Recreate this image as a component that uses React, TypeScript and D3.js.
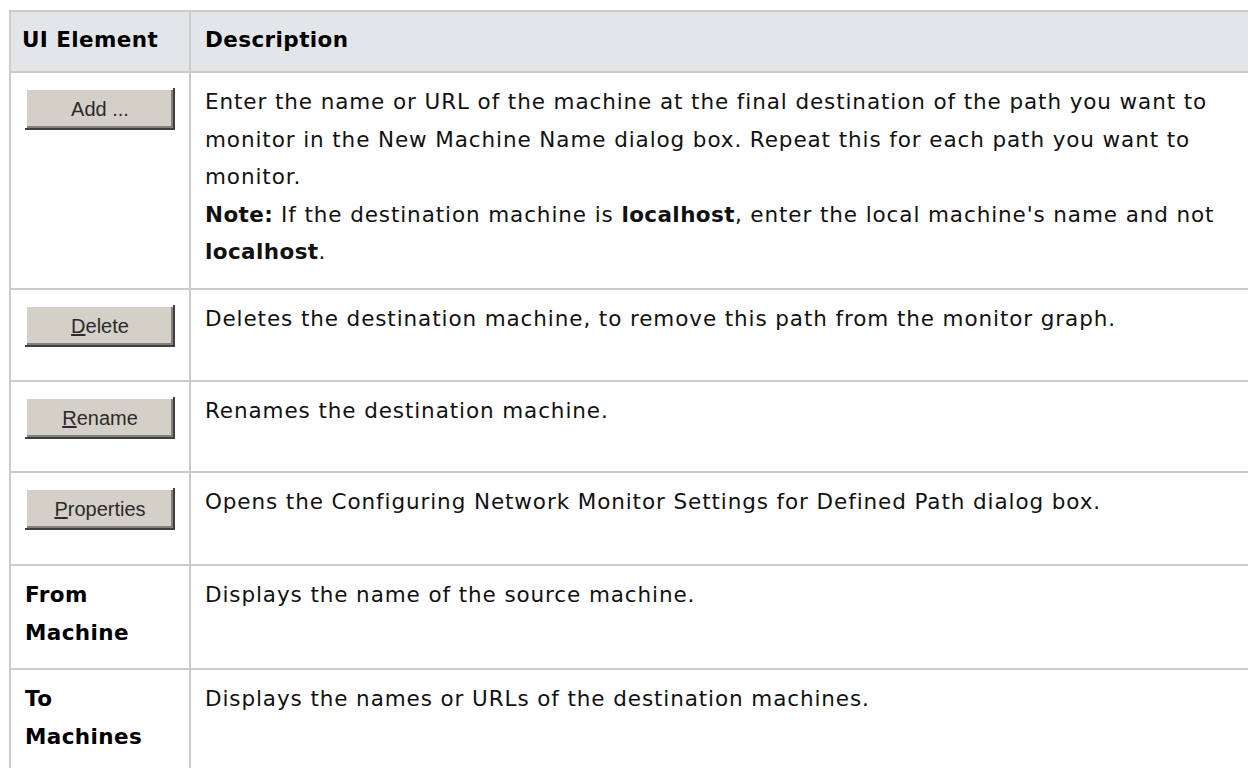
import React, { useEffect, useRef } from "react";
import * as d3 from "d3";

// table content
const headers = ["UI Element", "Description"];
const buttonLabels = ["Add ...", "Delete", "Rename", "Properties"];
const buttonMnemonic = [-1, 0, 0, 0];
const labelCells = [
  ["From", "Machine"],
  ["To", "Machines"],
];
const descriptions = [
  [
    "Enter the name or URL of the machine at the final destination of the path you want to",
    "monitor in the New Machine Name dialog box. Repeat this for each path you want to",
    "monitor.",
    "**Note:** If the destination machine is **localhost**, enter the local machine's name and not",
    "**localhost**.",
  ],
  ["Deletes the destination machine, to remove this path from the monitor graph."],
  ["Renames the destination machine."],
  ["Opens the Configuring Network Monitor Settings for Defined Path dialog box."],
  ["Displays the name of the source machine."],
  ["Displays the names or URLs of the destination machines."],
];

const W = 1248;
const H = 768;
const left = 10;
const top = 11;
const divider = 190;
const headerH = 61;
const rowHeights = [217, 92, 91, 93, 104, 110];
const lineH = 37.5;
const font = "'DejaVu Sans', 'Open Sans', sans-serif";
const fontSize = 21.5;
const spacing = 0.9;
const gridColor = "#cbcbcb";

function segments(line: string) {
  return line
    .split(/(\*\*[^*]+\*\*)/)
    .filter((s) => s.length > 0)
    .map((s) =>
      s.startsWith("**") ? { text: s.slice(2, -2), bold: true } : { text: s, bold: false }
    );
}

function App() {
  const svgRef = useRef<SVGSVGElement | null>(null);

  useEffect(() => {
    const svg = d3.select(svgRef.current);
    svg.selectAll("*").remove();

    const edges = [top, top + headerH, ...Array.from(d3.cumsum(rowHeights), (d) => top + headerH + d)];
    const rowTop = (i: number) => edges[i + 1];

    // header background
    svg
      .append("rect")
      .attr("x", left)
      .attr("y", top)
      .attr("width", W - left)
      .attr("height", headerH)
      .attr("fill", "#e3e6e8");

    // horizontal lines
    svg
      .selectAll(".hline")
      .data(edges)
      .enter()
      .append("line")
      .attr("x1", left)
      .attr("x2", W)
      .attr("y1", (d) => d)
      .attr("y2", (d) => d)
      .attr("stroke", gridColor)
      .attr("stroke-width", 2);

    // vertical lines
    svg
      .selectAll(".vline")
      .data([left, divider])
      .enter()
      .append("line")
      .attr("x1", (d) => d)
      .attr("x2", (d) => d)
      .attr("y1", top - 1)
      .attr("y2", H)
      .attr("stroke", gridColor)
      .attr("stroke-width", 2);

    // header text
    svg
      .selectAll(".head")
      .data(headers)
      .enter()
      .append("text")
      .attr("x", (_, i) => (i === 0 ? 22 : 205))
      .attr("y", top + 36)
      .attr("font-family", font)
      .attr("font-size", fontSize)
      .attr("font-weight", 700)
      .attr("letter-spacing", 0.4)
      .attr("fill", "#000")
      .text((d) => d);

    // descriptions
    descriptions.forEach((lines, r) => {
      lines.forEach((line, k) => {
        const t = svg
          .append("text")
          .attr("x", 205)
          .attr("y", rowTop(r) + 37 + k * lineH)
          .attr("font-family", font)
          .attr("font-size", fontSize)
          .attr("letter-spacing", spacing)
          .attr("fill", "#111")
          .style("white-space", "pre");
        segments(line).forEach((s) => {
          t.append("tspan")
            .attr("font-weight", s.bold ? 700 : 400)
            .attr("letter-spacing", s.bold ? 0.4 : spacing)
            .text(s.text);
        });
      });
    });

    // buttons
    const bw = 150;
    const bh = 42;
    buttonLabels.forEach((label, r) => {
      const g = svg.append("g").attr("transform", `translate(25,${rowTop(r) + 16})`);
      g.append("rect").attr("width", bw).attr("height", bh).attr("fill", "#404040");
      g.append("rect").attr("width", bw - 2).attr("height", bh - 2).attr("fill", "#ffffff");
      g.append("rect").attr("x", 2).attr("y", 2).attr("width", bw - 4).attr("height", bh - 4).attr("fill", "#808080");
      g.append("rect").attr("x", 2).attr("y", 2).attr("width", bw - 6).attr("height", bh - 6).attr("fill", "#d4d0c8");
      const t = g
        .append("text")
        .attr("x", bw / 2)
        .attr("y", bh / 2 + 7)
        .attr("text-anchor", "middle")
        .attr("font-family", "'Liberation Sans', Arial, sans-serif")
        .attr("font-size", 20)
        .attr("fill", "#2a2a2a");
      const m = buttonMnemonic[r];
      if (m >= 0) {
        t.append("tspan").attr("text-decoration", "underline").text(label.slice(0, m + 1));
        t.append("tspan").text(label.slice(m + 1));
      } else {
        t.text(label);
      }
    });

    // bold label cells
    labelCells.forEach((lines, j) => {
      const r = buttonLabels.length + j;
      lines.forEach((line, k) => {
        svg
          .append("text")
          .attr("x", 25)
          .attr("y", rowTop(r) + 37 + k * lineH)
          .attr("font-family", font)
          .attr("font-size", fontSize)
          .attr("font-weight", 700)
          .attr("letter-spacing", 0.4)
          .attr("fill", "#000")
          .text(line);
      });
    });
  }, []);

  return (
    <div style={{ position: "absolute", left: 0, top: 0, background: "#fff" }}>
      <svg ref={svgRef} width={W} height={H} style={{ display: "block" }} />
    </div>
  );
}

export default App;
